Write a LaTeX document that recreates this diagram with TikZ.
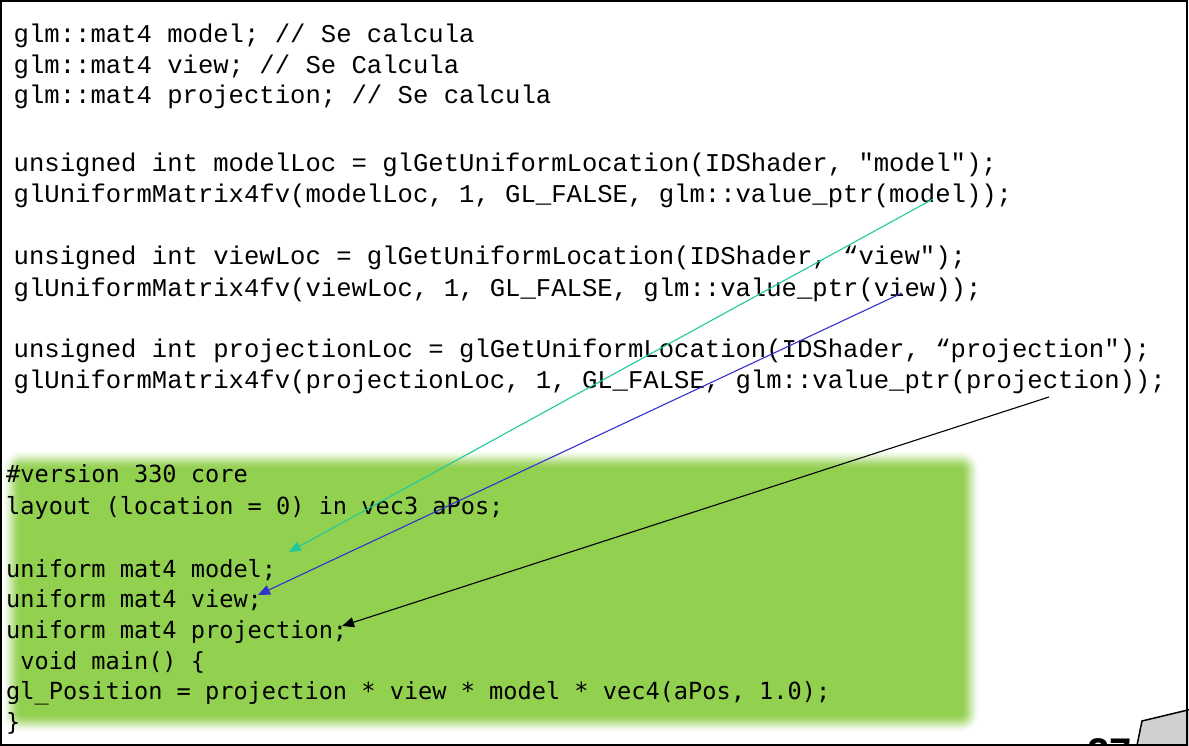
\documentclass[tikz,border=0pt]{standalone}
\usepackage{fontspec}
\usetikzlibrary{arrows.meta}
\newfontfamily\cppfont{Liberation Mono}
\newfontfamily\glslfont{DejaVu Sans Mono}
\newfontfamily\numfont{Liberation Sans}
\definecolor{codegreen}{RGB}{146,208,80}
\definecolor{tealarrow}{RGB}{32,200,158}
\definecolor{bluearrow}{RGB}{50,50,205}
\definecolor{curlgray}{RGB}{208,208,208}
\begin{document}
\begin{tikzpicture}[x=1pt,y=-1pt,
  cpp/.style={anchor=base west,inner sep=0pt,font=\cppfont\fontsize{25.6}{30}\selectfont},
  glsl/.style={anchor=base west,inner sep=0pt,font=\glslfont\fontsize{23.6}{30}\selectfont},
  link/.style={line width=1.1pt,-{Triangle[length=12pt,width=10pt]}}]
\useasboundingbox (0,0) rectangle (1189,746);
\begin{scope}
\clip (0,0) rectangle (1189,746);
% soft green panel
\foreach \k in {0,...,20}{
  \pgfmathsetmacro\t{\k/20}
  \pgfmathsetmacro\p{100*(3*\t*\t-2*\t*\t*\t)}
  \pgfmathsetmacro\r{21-\k}
  \fill[codegreen!\p!white, rounded corners=\r pt] (1+\k,449+\k) rectangle (981-\k,734-\k);
}
% C++ code
\node[cpp] (c1) at (13.5,43) {glm::mat4 model; // Se calcula};
\node[cpp] (c2) at (13.5,73.5) {glm::mat4 view; // Se Calcula};
\node[cpp] (c3) at (13.5,104) {glm::mat4 projection; // Se calcula};
\node[cpp] (c5) at (13.5,172) {unsigned int modelLoc = glGetUniformLocation(IDShader, "model");};
\node[cpp] (c6) at (13.5,203) {glUniformMatrix4fv(modelLoc, 1, GL\_FALSE, glm::value\_ptr(model));};
\node[cpp] (c8) at (13.5,265) {unsigned int viewLoc = glGetUniformLocation(IDShader, “view");};
\node[cpp] (c9) at (13.5,296) {glUniformMatrix4fv(viewLoc, 1, GL\_FALSE, glm::value\_ptr(view));};
\node[cpp] (c11) at (13.5,357) {unsigned int projectionLoc = glGetUniformLocation(IDShader, “projection");};
\node[cpp] (c12) at (13.5,388) {glUniformMatrix4fv(projectionLoc, 1, GL\_FALSE, glm::value\_ptr(projection));};
% GLSL code
\node[glsl] (g1) at (6,482) {\#version 330 core};
\node[glsl] (g2) at (6,514) {layout (location = 0) in vec3 aPos;};
\node[glsl] (g4) at (6,577) {uniform mat4 model;};
\node[glsl] (g5) at (6,607) {uniform mat4 view;};
\node[glsl] (g6) at (6,638) {uniform mat4 projection;};
\node[glsl] (g7) at (6,669) {\ void main() \{};
\node[glsl] (g8) at (6,699) {gl\_Position = projection * view * model * vec4(aPos, 1.0);};
\node[glsl] (g9) at (6,730) {\}};
% arrows
\coordinate (modelsrc) at (933,199);
\coordinate (modeltip) at (289,552);
\coordinate (viewsrc) at (902,293);
\coordinate (viewtip) at (258,595);
\coordinate (projsrc) at (1049,397);
\coordinate (projtip) at (342,626);
\draw[link,tealarrow] (modelsrc) -- (modeltip);
\draw[link,bluearrow] (viewsrc) -- (viewtip);
\draw[link,black] (projsrc) -- (projtip);
% page number and corner
\node[anchor=base west,inner sep=0pt,font=\numfont\bfseries\fontsize{40}{40}\selectfont] (pagenum) at (1087,766) {27};
\filldraw[fill=curlgray,draw=black,line width=1.5pt] (1136,750) -- (1142,721) -- (1192,709) -- (1192,750) -- cycle;
\end{scope}
\draw[line width=2pt] (1,1) rectangle (1187,745);
\end{tikzpicture}
\end{document}
